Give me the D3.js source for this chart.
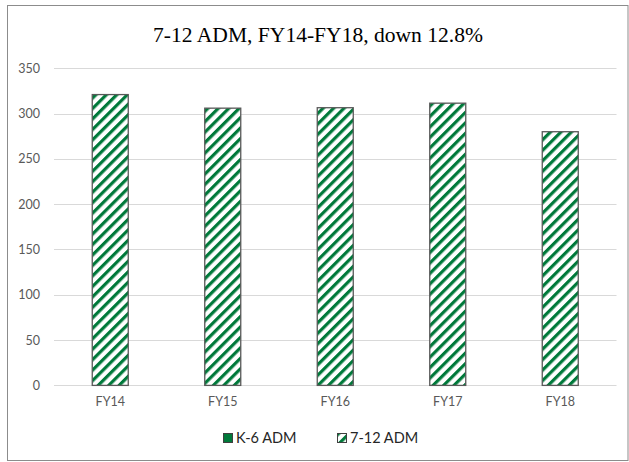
<!DOCTYPE html>
<html><head><meta charset="utf-8">
<script src="https://cdn.jsdelivr.net/npm/d3@7"></script>
<style>html,body{margin:0;padding:0;background:#fff;}svg{display:block;}</style>
</head><body>
<svg id="chart" width="629" height="462"></svg>
<script>
const title = "7-12 ADM, FY14-FY18, down 12.8%";
const categories = ["FY14", "FY15", "FY16", "FY17", "FY18"];
const adm712 = [321, 306, 306.5, 311.5, 280];
const seriesNames = ["K-6 ADM", "7-12 ADM"];
const yTicks = [0, 50, 100, 150, 200, 250, 300, 350];

const svg = d3.select("#chart");
const W = 629, H = 462;
const margin = {left: 54, right: 12.5, top: 68.3, bottom: 76.6};
const green = "#00793a";

const defs = svg.append("defs");
const pat = defs.append("pattern").attr("id", "hatch")
  .attr("patternUnits", "userSpaceOnUse").attr("width", 7.4).attr("height", 7.4)
  .attr("patternTransform", "rotate(45)");
pat.append("rect").attr("width", 7.4).attr("height", 7.4).attr("fill", "#fff");
pat.append("rect").attr("x", 0).attr("width", 3.2).attr("height", 7.4).attr("fill", green);

svg.append("rect").attr("x", 7.5).attr("y", 5.5).attr("width", 620.5).attr("height", 455)
  .attr("fill", "#fff").attr("stroke", "#8c8c8c").attr("stroke-width", 1);

const x = d3.scaleBand().domain(categories).range([margin.left, W - margin.right]).paddingInner(0.68).paddingOuter(0.34);
const y = d3.scaleLinear().domain([0, 350]).range([H - margin.bottom, margin.top]);

// gridlines
svg.append("g").selectAll("line").data(yTicks).join("line")
  .attr("x1", margin.left).attr("x2", W - margin.right)
  .attr("y1", d => Math.round(y(d)) + 0.5).attr("y2", d => Math.round(y(d)) + 0.5)
  .attr("stroke", "#d9d9d9").attr("stroke-width", 1.2);

// y axis labels
const yAxis = d3.axisLeft(y).tickValues(yTicks).tickSize(0).tickPadding(0);
const ya = svg.append("g").attr("transform", `translate(40,0)`).call(yAxis);
ya.select(".domain").remove();
ya.selectAll("text").attr("font-family", "Lato, 'Open Sans', sans-serif").attr("font-size", 12.5).attr("fill", "#595959");

// x axis labels
const xAxis = d3.axisBottom(x).tickSize(0).tickPadding(0);
const xa = svg.append("g").attr("transform", `translate(0,${y(0) + 12})`).call(xAxis);
xa.select(".domain").remove();
xa.selectAll("text").attr("font-family", "Lato, 'Open Sans', sans-serif").attr("font-size", 12.5).attr("fill", "#595959");

// bars
svg.append("g").selectAll("rect").data(adm712).join("rect")
  .attr("x", (d, i) => x(categories[i]))
  .attr("y", d => y(d))
  .attr("width", x.bandwidth())
  .attr("height", d => y(0) - y(d))
  .attr("fill", "url(#hatch)")
  .attr("stroke", "#595959").attr("stroke-width", 1.3);

// title
const t = svg.append("text").attr("x", 318).attr("y", 42).attr("text-anchor", "middle")
  .attr("font-family", "'Liberation Serif', 'DejaVu Serif', serif").attr("font-size", 22).attr("fill", "#000")
  .text(title);
const tl = t.node().getComputedTextLength();
t.attr("font-size", 22 * 330 / tl);

// legend
const lg = svg.append("g");
const legendPos = [223, 337];
seriesNames.forEach((name, i) => {
  const g = lg.append("g").attr("transform", `translate(${legendPos[i]},433)`);
  g.append("rect").attr("x", 0.5).attr("y", 0.5).attr("width", 9).attr("height", 9)
    .attr("fill", i === 0 ? green : "url(#hatch)").attr("stroke", "#404040").attr("stroke-width", 1);
  g.append("text").attr("x", 13).attr("y", 10)
    .attr("font-family", "Lato, 'Open Sans', sans-serif").attr("font-size", 14.5).attr("fill", "#262626")
    .text(name);
});
</script>
</body></html>
